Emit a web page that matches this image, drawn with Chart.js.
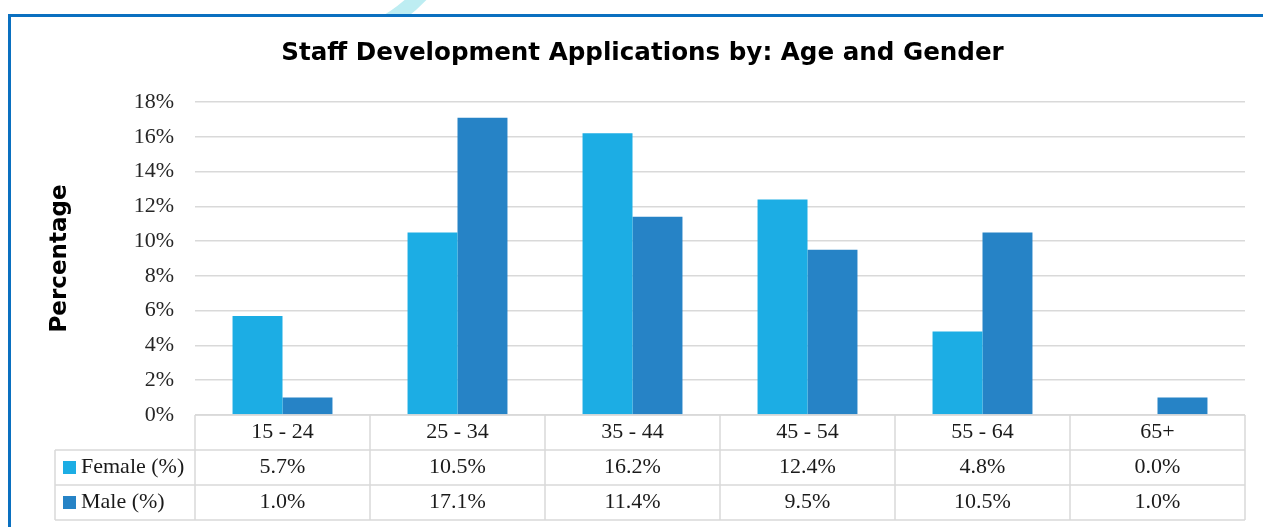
<!DOCTYPE html>
<html><head><meta charset="utf-8">
<script src="https://cdn.jsdelivr.net/npm/chart.js@4"></script>
<style>
html,body{margin:0;padding:0;width:1263px;height:527px;overflow:hidden;background:#fff;position:relative}
#ring{position:absolute;left:0;top:0}
#frame{position:absolute;left:8px;top:14px;width:1300px;height:600px;border-left:3px solid #0A70C0;border-top:3px solid #0A70C0;background:#fff}
canvas{position:absolute;left:0;top:0}
</style>
</head><body>
<svg id="ring" width="1263" height="40"><path d="M 450.9 -49.6 A 166.5 166.5 0 0 1 378.2 27" stroke="#BDEDF2" stroke-width="15" fill="none"/></svg>
<div id="frame"></div>
<canvas id="c" width="1263" height="527"></canvas>
<script>
const categories = ['15 - 24','25 - 34','35 - 44','45 - 54','55 - 64','65+'];
const femaleValues = [5.7, 10.5, 16.2, 12.4, 4.8, 0.0];
const maleValues = [1.0, 17.1, 11.4, 9.5, 10.5, 1.0];
const seriesNames = ['Female (%)', 'Male (%)'];
const seriesColors = ['#1CADE4', '#2683C6'];
const yMin = 0, yMax = 18, yStep = 2;
const chartTitle = 'Staff Development Applications by: Age and Gender';
const yAxisTitle = 'Percentage';

const tableFont = '22px "Liberation Serif", "Times New Roman", serif';
const textColor = '#1a1a1a';

const tablePlugin = {
  id: 'dataTable',
  afterDraw(chart) {
    const {ctx, chartArea: ca} = chart;
    const xs = chart.scales.x;
    const n = categories.length;
    const cw = (ca.right - ca.left) / n;
    const rowH = 35;
    const top = ca.bottom;
    const legendLeft = 55;
    ctx.save();
    ctx.strokeStyle = '#D9D9D9';
    ctx.lineWidth = 1.5;
    ctx.beginPath();
    ctx.moveTo(ca.left, top); ctx.lineTo(ca.right, top);
    for (let r = 1; r <= 3; r++) {
      ctx.moveTo(legendLeft, top + r * rowH); ctx.lineTo(ca.right, top + r * rowH);
    }
    for (let i = 0; i <= n; i++) {
      const x = ca.left + i * cw;
      ctx.moveTo(x, top); ctx.lineTo(x, top + 3 * rowH);
    }
    ctx.moveTo(legendLeft, top + rowH); ctx.lineTo(legendLeft, top + 3 * rowH);
    ctx.stroke();

    ctx.font = tableFont;
    ctx.fillStyle = textColor;
    ctx.textAlign = 'center';
    ctx.textBaseline = 'middle';
    const rows = chart.data.datasets.map(d => d.data);
    categories.forEach((c, i) => {
      const x = xs.getPixelForValue(i);
      ctx.fillText(c, x, top + rowH / 2);
      rows.forEach((vals, k) => {
        ctx.fillText(vals[i].toFixed(1) + '%', x, top + rowH * (k + 1.5));
      });
    });
    chart.data.datasets.forEach((d, k) => {
      const cy = top + rowH * (k + 1.5);
      ctx.fillStyle = d.backgroundColor;
      ctx.fillRect(63, cy - 6.5, 13, 13);
      ctx.fillStyle = textColor;
      ctx.textAlign = 'left';
      ctx.fillText(d.label, 81, cy);
    });
    ctx.restore();
  }
};

new Chart(document.getElementById('c'), {
  type: 'bar',
  data: {
    labels: categories,
    datasets: [
      { label: seriesNames[0], data: femaleValues, backgroundColor: seriesColors[0], categoryPercentage: 0.571, barPercentage: 1.0 },
      { label: seriesNames[1], data: maleValues, backgroundColor: seriesColors[1], categoryPercentage: 0.571, barPercentage: 1.0 }
    ]
  },
  options: {
    responsive: false,
    animation: false,
    layout: { padding: { left: 40, right: 18, top: 0, bottom: 112 } },
    plugins: {
      legend: { display: false },
      tooltip: { enabled: false },
      title: {
        display: true,
        text: chartTitle,
        color: '#000',
        font: { family: '"DejaVu Sans", Arial, sans-serif', size: 24.6, weight: 'bold', lineHeight: 1.2 },
        padding: { top: 39, bottom: 33.5 }
      }
    },
    scales: {
      x: { display: false },
      y: {
        min: yMin, max: yMax,
        afterFit(scale) { scale.width = 155; },
        border: { display: false },
        grid: { color: '#D9D9D9', lineWidth: 1.5, drawTicks: false },
        ticks: {
          stepSize: yStep,
          padding: 21,
          color: '#262626',
          font: { family: '"Liberation Serif", "Times New Roman", serif', size: 22 },
          callback: v => v + '%'
        },
        title: {
          display: true,
          text: yAxisTitle,
          color: '#000',
          font: { family: '"DejaVu Sans", Arial, sans-serif', size: 23, weight: 'bold', lineHeight: 1.2 },
          padding: { top: 6, bottom: 0 }
        }
      }
    }
  },
  plugins: [tablePlugin]
});
</script>
</body></html>
